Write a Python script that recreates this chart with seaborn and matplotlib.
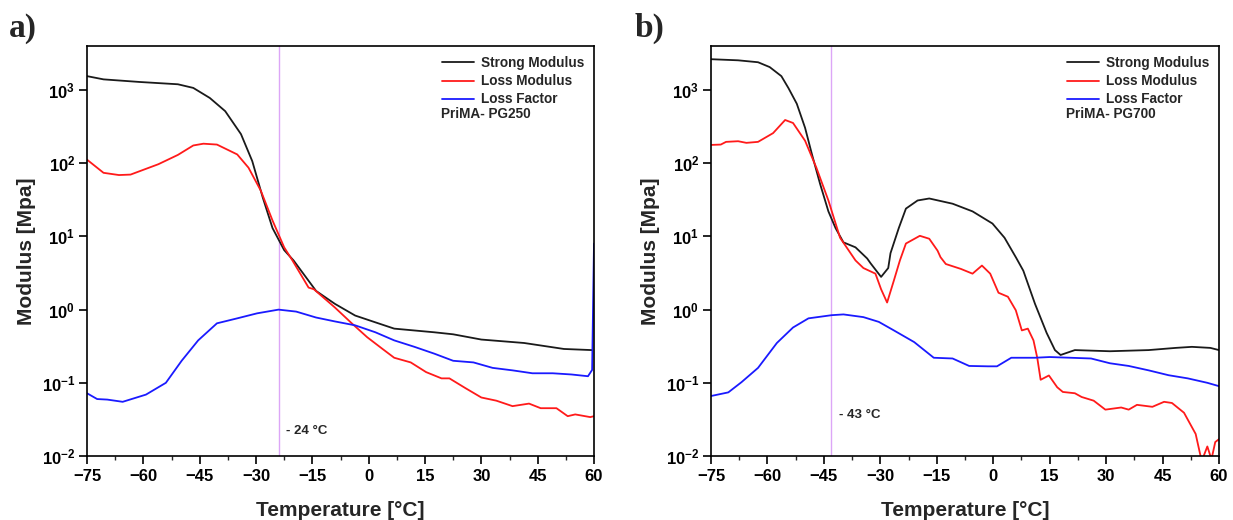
import numpy as np
import pandas as pd
import matplotlib
matplotlib.use("Agg")
import matplotlib.pyplot as plt
import seaborn as sns

# ---------------- data ----------------
# Panel a) PriMA- PG250
a_storage_T = [-75, -70.6, -61, -50.8, -46.7, -42.3, -38.2, -34, -31, -28.2, -25.6, -22.5, -20, -14,
               -9, -3.6, 1.8, 6.8, 17.5, 22.5, 30, 41.4, 52, 59.4]
a_storage_V = [1550, 1400, 1290, 1200, 1070, 780, 515, 250, 107, 34, 13, 6.5, 4.7, 1.8,
               1.2, 0.83, 0.67, 0.55, 0.49, 0.46, 0.39, 0.35, 0.29, 0.28]
a_loss_T = [-75, -70.6, -66.5, -63.4, -56, -50.8, -46.7, -44, -40.4, -35, -32, -28.7, -25.6, -22.5,
            -20.3, -16, -14.6, -9, -4.5, -0.4, 3.7, 6.8, 11.2, 15.3, 19.4, 21.5, 25.7, 30, 34,
            38.3, 42.7, 45.8, 50, 53, 55, 59, 60]
a_loss_V = [112, 74, 69, 70, 97, 130, 175, 185, 180, 132, 87, 42, 16.5, 7.1,
            4.7, 2.0, 1.9, 1.07, 0.65, 0.42, 0.29, 0.22, 0.19, 0.14, 0.115, 0.115, 0.085, 0.063, 0.057,
            0.048, 0.052, 0.045, 0.045, 0.035, 0.037, 0.034, 0.035]
a_factor_T = [-75, -72.3, -69.6, -65.5, -59.3, -54, -49.8, -45.4, -40.4, -35, -29.7, -24, -19.3, -14,
              -9, -3.6, 1.8, 6.8, 12.2, 17.5, 22.5, 27.9, 33, 38.3, 43.6, 49, 54, 58.4, 59.5, 60]
a_factor_V = [0.072, 0.060, 0.059, 0.055, 0.069, 0.10, 0.20, 0.38, 0.65, 0.76, 0.89, 1.0, 0.94, 0.78,
              0.69, 0.61, 0.49, 0.38, 0.31, 0.25, 0.20, 0.19, 0.16, 0.148, 0.135, 0.135, 0.13, 0.123, 0.15, 8.0]

# Panel b) PriMA- PG700
b_storage_T = [-75, -67.8, -62.5, -59.4, -56.3, -54.4, -52.2, -50, -48.2, -46, -43.8, -41.9, -39.8,
               -36.6, -33.5, -32.6, -29.8, -27.9, -27.3, -25.1, -23.2, -20.1, -17, -10.8, -5.5, -0.2,
               3, 6.1, 8, 11.1, 14.2, 16.4, 17.9, 21.7, 31, 41.3, 48.5, 52.8, 57.7, 60]
b_storage_V = [2640, 2550, 2400, 2060, 1550, 1060, 650, 305, 134, 52, 22, 13, 8.3,
               7.1, 5.0, 4.3, 2.8, 3.7, 5.9, 13, 24, 31, 33, 28, 22, 15,
               9.6, 5.1, 3.4, 1.2, 0.48, 0.28, 0.24, 0.28, 0.27, 0.28, 0.30, 0.31, 0.30, 0.28]
b_loss_T = [-75, -72.4, -71, -67.8, -65.6, -62.5, -58.5, -55.3, -53.2, -50, -47, -43.8, -40.7, -36.6,
            -34.5, -31.3, -29.8, -28.2, -26.4, -24.8, -23.2, -19.5, -17, -14.8, -14, -12.6, -8.6,
            -5.5, -3, -0.8, 1.4, 3.9, 6, 7.6, 9.2, 10.7, 11.7, 12.6, 14.8, 17, 18.5, 21.7, 23.5,
            26.7, 29.8, 34, 36, 38.2, 42.3, 45.4, 47.5, 50.7, 53.8, 55.4, 56.9, 58, 59, 60]
b_loss_V = [178, 180, 196, 200, 190, 196, 258, 390, 355, 203, 87, 31, 9.6, 4.7,
            3.7, 3.1, 1.9, 1.25, 2.5, 4.7, 8.0, 10.2, 9.3, 6.4, 5.2, 4.2, 3.6,
            3.1, 4.0, 3.1, 1.7, 1.5, 0.98, 0.52, 0.55, 0.38, 0.22, 0.11, 0.126, 0.087, 0.075, 0.072, 0.064,
            0.057, 0.043, 0.046, 0.043, 0.05, 0.047, 0.055, 0.053, 0.039, 0.020, 0.0085, 0.0135, 0.009, 0.0155, 0.017]
b_factor_T = [-75, -70.4, -66.9, -62.5, -57.5, -53.2, -49.1, -42.9, -39.8, -34.5, -30.4, -26.4, -21,
              -15.8, -10.8, -6.4, -1.4, 1, 4.8, 11, 15, 20.5, 26, 31, 36, 41.3, 46.6, 51.7, 56.9, 60]
b_factor_V = [0.066, 0.074, 0.102, 0.16, 0.35, 0.57, 0.76, 0.84, 0.86, 0.79, 0.68, 0.52, 0.36,
              0.22, 0.215, 0.17, 0.168, 0.168, 0.22, 0.22, 0.225, 0.22, 0.215, 0.185, 0.17, 0.148, 0.127, 0.115, 0.10, 0.09]

series_names = ["Strong Modulus", "Loss Modulus", "Loss Factor"]
series_colors = ["#1a1a1a", "#ff1a1a", "#1a1aff"]
x_ticks = [-75, -60, -45, -30, -15, 0, 15, 30, 45, 60]
y_ticks = [1e-2, 1e-1, 1e0, 1e1, 1e2, 1e3]
panel_letters = ["a)", "b)"]
sample_names = ["PriMA- PG250", "PriMA- PG700"]
tg_values = [-24, -43]
tg_labels = ["- 24 °C", "- 43 °C"]
tg_label_y = [0.022, 0.036]


def make_df(sT, sV, lT, lV, fT, fV):
    parts = []
    for name, T, V in zip(series_names, [sT, lT, fT], [sV, lV, fV]):
        parts.append(pd.DataFrame({"T": T, "value": V, "series": name}))
    return pd.concat(parts, ignore_index=True)


dfs = [make_df(a_storage_T, a_storage_V, a_loss_T, a_loss_V, a_factor_T, a_factor_V),
       make_df(b_storage_T, b_storage_V, b_loss_T, b_loss_V, b_factor_T, b_factor_V)]

# ---------------- style ----------------
sns.set_theme(style="white")
plt.rcParams["font.family"] = ["Liberation Sans", "DejaVu Sans"]
plt.rcParams["mathtext.fontset"] = "custom"
plt.rcParams["mathtext.rm"] = "Liberation Sans:bold"
plt.rcParams["mathtext.bf"] = "Liberation Sans:bold"
plt.rcParams["mathtext.it"] = "Liberation Sans:bold"

fig = plt.figure(figsize=(12.33, 5.2), dpi=100)
ax_rects = [[87 / 1233, 1 - 456 / 520, 507 / 1233, 410 / 520],
            [711 / 1233, 1 - 456 / 520, 508 / 1233, 410 / 520]]
letter_x = [9 / 1233, 635 / 1233]

palette = dict(zip(series_names, series_colors))


def y_fmt(v, pos):
    e = int(round(np.log10(v)))
    return r"$\mathbf{10^{%d}}$" % e


for i in range(2):
    ax = fig.add_axes(ax_rects[i])
    sns.lineplot(data=dfs[i], x="T", y="value", hue="series", palette=palette,
                 hue_order=series_names, estimator=None, sort=False, lw=1.3, ax=ax)
    ax.set_yscale("log")
    ax.set_ylim(1e-2, 4.0e3)
    ax.set_xlim(-75, 60)
    ax.axvline(tg_values[i], color="#dca6f7", lw=1.0, zorder=0)

    ax.set_xticks(x_ticks)
    ax.set_xticklabels([("\u2212%d" % -t) if t < 0 else "%d" % t for t in x_ticks],
                       fontsize=12, fontweight="bold")
    ax.xaxis.set_minor_locator(matplotlib.ticker.MultipleLocator(7.5))
    ax.yaxis.set_major_locator(matplotlib.ticker.FixedLocator(y_ticks))
    ax.yaxis.set_major_formatter(matplotlib.ticker.FuncFormatter(y_fmt))
    ax.yaxis.set_minor_locator(matplotlib.ticker.NullLocator())
    for lab in ax.get_yticklabels():
        lab.set_fontsize(12)
    ax.tick_params(axis="both", which="major", direction="out", length=5.5, width=1.2,
                   bottom=True, left=True, top=False, right=False, colors="black")
    ax.tick_params(axis="x", which="major", pad=4)
    ax.tick_params(axis="y", which="major", pad=3)
    ax.tick_params(axis="x", which="minor", direction="out", length=3, width=1.0, bottom=True)
    for sp in ax.spines.values():
        sp.set_visible(True)
        sp.set_color("black")
        sp.set_linewidth(1.2)

    ax.set_xlabel("Temperature [°C]", fontsize=15, fontweight="bold", labelpad=12)
    ax.set_ylabel("Modulus [Mpa]", fontsize=15, fontweight="bold", labelpad=4)

    leg = ax.legend(loc="upper right", bbox_to_anchor=(1.0, 1.0), frameon=False,
                    fontsize=9.8, handlelength=2.35, handletextpad=0.45, labelspacing=0.3,
                    borderaxespad=0.3, borderpad=0.45, title=None)
    for t in leg.get_texts():
        t.set_fontweight("bold")
    ax.text(0.698, 0.835, sample_names[i], transform=ax.transAxes, fontsize=9.8,
            fontweight="bold", ha="left", va="center")
    ax.text(tg_values[i] + 2, tg_label_y[i], tg_labels[i], fontsize=9.5,
            fontweight="bold", ha="left", va="center")

    fig.text(letter_x[i], 1 - 28 / 520, panel_letters[i], fontsize=24, fontweight="bold",
             family="Liberation Serif", ha="left", va="center")

fig.savefig("out.png", dpi=100)
